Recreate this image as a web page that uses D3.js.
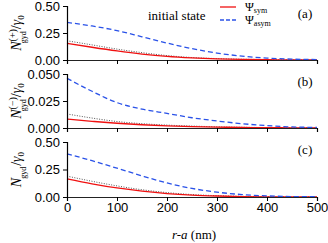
<!DOCTYPE html>
<html>
<head>
<meta charset="utf-8">
<script src="https://cdn.jsdelivr.net/npm/d3@7"></script>
<style>
body { margin: 0; background: #fff; }
svg { display: block; }
</style>
</head>
<body>
<div id="chart"></div>
<script>
// r-a positions (nm)
var rPos = [0, 50, 100, 150, 200, 250, 300, 350, 400, 450, 500];

// panel (a) N+ / gamma0
var aSym   = [0.155, 0.118, 0.084, 0.055, 0.033, 0.019, 0.010, 0.005, 0.003, 0.001, 0.0005];
var aAsym  = [0.348, 0.315, 0.272, 0.215, 0.157, 0.105, 0.064, 0.036, 0.018, 0.008, 0.004];
var aInit  = [0.178, 0.140, 0.101, 0.068, 0.041, 0.023, 0.013, 0.007, 0.004, 0.002, 0.001];

// panel (b) N- / gamma0
var bSym   = [0.0082, 0.0062, 0.0044, 0.0030, 0.0019, 0.0012, 0.0008, 0.0005, 0.0003, 0.0002, 0.0001];
var bAsym  = [0.0460, 0.0340, 0.0235, 0.0175, 0.0135, 0.0095, 0.0065, 0.0040, 0.0022, 0.0010, 0.0005];
var bInit  = [0.0130, 0.0092, 0.0060, 0.0040, 0.0027, 0.0018, 0.0011, 0.0007, 0.0004, 0.0002, 0.0001];

// panel (c) N / gamma0
var cSym   = [0.165, 0.120, 0.082, 0.053, 0.031, 0.017, 0.009, 0.004, 0.002, 0.001, 0.0005];
var cAsym  = [0.392, 0.330, 0.262, 0.192, 0.128, 0.078, 0.044, 0.022, 0.010, 0.004, 0.002];
var cInit  = [0.190, 0.143, 0.101, 0.066, 0.040, 0.022, 0.012, 0.006, 0.003, 0.001, 0.0005];

var xTicks = [0, 100, 200, 300, 400, 500];
var yTicksBig = [0, 0.25, 0.5];
var yTicksSmall = [0, 0.025, 0.05];
var panelNames = ["(a)", "(b)", "(c)"];

var w = 328, h = 243;
var svg = d3.select("#chart").append("svg")
  .attr("width", w).attr("height", h);

var x = d3.scaleLinear().domain([0, 500]).range([67, 317]);

var panels = [
  {top: 6,   bottom: 60,  max: 0.5,  ticks: yTicksBig,   fmt: d3.format(".2f"), sym: aSym, asym: aAsym, init: aInit, sup: "(+)"},
  {top: 74,  bottom: 128, max: 0.05, ticks: yTicksSmall, fmt: d3.format(".3f"), sym: bSym, asym: bAsym, init: bInit, sup: "(\u2212)"},
  {top: 142, bottom: 197, max: 0.5,  ticks: yTicksBig,   fmt: d3.format(".2f"), sym: cSym, asym: cAsym, init: cInit, sup: ""}
];

panels.forEach(function(p, i) {
  var y = d3.scaleLinear().domain([0, p.max]).range([p.bottom, p.top]);
  var g = svg.append("g");

  var line = d3.line()
    .x(function(d, j) { return x(rPos[j]); })
    .y(function(d) { return y(d); })
    .curve(d3.curveMonotoneX);

  g.append("path").datum(p.init)
    .attr("d", line).attr("fill", "none")
    .attr("stroke", "#555").attr("stroke-width", 1)
    .attr("stroke-dasharray", "1,1.5");
  g.append("path").datum(p.sym)
    .attr("d", line).attr("fill", "none")
    .attr("stroke", "#f01010").attr("stroke-width", 1.3);
  g.append("path").datum(p.asym)
    .attr("d", line).attr("fill", "none")
    .attr("stroke", "#2a52e8").attr("stroke-width", 1.3)
    .attr("stroke-dasharray", "5,3");

  // x axis
  var xa = g.append("g").attr("transform", "translate(0," + p.bottom + ")")
    .call(d3.axisBottom(x).tickValues(xTicks).tickSize(4)
      .tickFormat(i === 2 ? d3.format("d") : ""));
  xa.select(".domain").attr("stroke", "#222").attr("stroke-width", 1.2);
  xa.selectAll("text").attr("font-family", "Liberation Sans, Arial, sans-serif")
    .attr("font-size", 13).attr("fill", "#000").attr("dy", "0.6em");

  // y axis
  var ya = g.append("g").attr("transform", "translate(67,0)")
    .call(d3.axisLeft(y).tickValues(p.ticks).tickSize(4).tickFormat(p.fmt));
  ya.select(".domain").attr("stroke", "#000").attr("stroke-width", 1.2);
  ya.selectAll("text").attr("font-family", "Liberation Sans, Arial, sans-serif")
    .attr("font-size", 13).attr("fill", "#000");

  // panel letter
  g.append("text").attr("x", 305).attr("y", p.top + 12)
    .attr("text-anchor", "middle")
    .attr("font-family", "Liberation Serif, Times New Roman, serif")
    .attr("font-size", 13).text(panelNames[i]);

  // y label
  var cy = (p.top + p.bottom) / 2;
  var lab = g.append("text")
    .attr("transform", "translate(21," + cy + ") rotate(-90)")
    .attr("text-anchor", "middle")
    .attr("font-family", "Liberation Serif, Times New Roman, serif")
    .attr("font-size", 14);
  lab.append("tspan").attr("font-style", "italic").text("N");
  lab.append("tspan").attr("font-size", 10).attr("dy", -5).text(p.sup === "" ? "\u2007\u2007" : p.sup);
  lab.append("tspan").attr("font-size", 8).attr("dx", p.sup === "" ? -11 : -14).attr("dy", 10).text("gyd");
  lab.append("tspan").attr("dy", -5).attr("dx", p.sup === "" ? 1 : 2).text("/");
  lab.append("tspan").attr("font-style", "italic").text("\u03b3");
  lab.append("tspan").attr("font-size", 9).attr("dy", 3).text("0");
});

// legend
var lg = svg.append("g").attr("font-family", "Liberation Serif, Times New Roman, serif");
lg.append("text").attr("x", 148).attr("y", 20).attr("font-size", 13).text("initial state");
lg.append("line").attr("x1", 220).attr("x2", 236).attr("y1", 7).attr("y2", 7)
  .attr("stroke", "#f01010").attr("stroke-width", 1.3);
lg.append("line").attr("x1", 220).attr("x2", 236).attr("y1", 20).attr("y2", 20)
  .attr("stroke", "#2a52e8").attr("stroke-width", 1.3).attr("stroke-dasharray", "4,2");
var t1 = lg.append("text").attr("x", 245).attr("y", 11).attr("font-size", 12);
t1.append("tspan").text("\u03a8");
t1.append("tspan").attr("font-size", 8).attr("dy", 2).text("sym");
var t2 = lg.append("text").attr("x", 245).attr("y", 24).attr("font-size", 12);
t2.append("tspan").text("\u03a8");
t2.append("tspan").attr("font-size", 8).attr("dy", 2).text("asym");

// x label
var xl = svg.append("text").attr("x", 194).attr("y", 239).attr("text-anchor", "middle")
  .attr("font-family", "Liberation Serif, Times New Roman, serif").attr("font-size", 13);
xl.append("tspan").attr("font-style", "italic").text("r-a");
xl.append("tspan").text(" (nm)");
</script>
</body>
</html>
